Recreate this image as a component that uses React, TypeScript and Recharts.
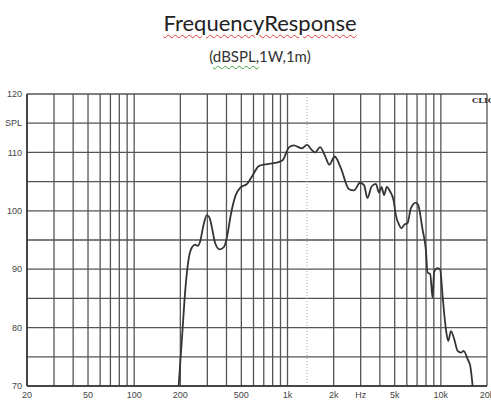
import React from "react";
import { CartesianGrid, Line, LineChart, ReferenceLine, XAxis, YAxis } from "recharts";

// frequency (Hz) and SPL (dB)
const freqs = [
  195, 205, 216, 227, 239, 250, 260, 269, 283, 297, 309, 321, 338, 362, 385, 405,
  426, 458, 494, 545, 590, 652, 741, 830, 925, 1025, 1100, 1242, 1339, 1442, 1515,
  1631, 1757, 1873, 2030, 2222, 2518, 2714, 2972, 3156, 3320, 3541, 3767, 3954,
  4100, 4265, 4441, 4666, 4910, 5084, 5346, 5540, 5762, 6063, 6374, 6872, 7112,
  7598, 7988, 8194, 8521, 8832, 9046, 9521, 9904, 10268, 10792, 11170, 11634,
  12230, 12870, 13520, 14084, 14956, 15560, 16120,
];
const spl = [
  70, 78.2, 86.8, 91.9, 93.8, 94.2, 94.0, 94.7, 97.5, 99.2, 98.9, 97.2, 94.4, 93.4,
  93.8, 95.8, 99.2, 102.6, 104.0, 104.6, 106.0, 107.7, 108.0, 108.2, 108.6, 110.9,
  111.2, 110.7, 111.3, 110.4, 110.0, 110.9, 109.4, 107.9, 109.3, 107.4, 103.7,
  103.5, 104.8, 104.4, 102.2, 104.2, 104.6, 103.1, 104.1, 102.7, 104.1, 103.3,
  101.9, 99.3, 97.6, 97.0, 97.6, 97.9, 100.4, 101.4, 101.0, 96.8, 93.3, 89.4, 89.2,
  85.1, 89.6, 90.2, 89.9, 85.4, 79.7, 77.7, 79.4, 78.0, 76.0, 75.7, 76.0, 74.6,
  73.4, 70,
];

const xGridTicks = [
  20, 30, 40, 50, 60, 70, 80, 90, 100, 200, 300, 400, 500, 600, 700, 800, 900,
  1000, 2000, 3000, 4000, 5000, 6000, 7000, 8000, 9000, 10000, 20000,
];
const xLabelFreqs = [20, 50, 100, 200, 500, 1000, 2000, 3000, 5000, 10000, 20000];
const xLabelTexts = ["20", "50", "100", "200", "500", "1k", "2k", "Hz", "5k", "10k", "20k"];

const yTicks = [70, 75, 80, 85, 90, 95, 100, 105, 110, 115, 120];
const yLabelValues = [70, 80, 90, 100, 110, 115, 120];
const yLabelTexts = ["70", "80", "90", "100", "110", "SPL", "120"];
const yMinorTicks = [
  70, 71, 72, 73, 74, 75, 76, 77, 78, 79, 80, 81, 82, 83, 84, 85, 86, 87, 88, 89,
  90, 91, 92, 93, 94, 95, 96, 97, 98, 99, 100, 101, 102, 103, 104, 105, 106, 107,
  108, 109, 110, 111, 112, 113, 114, 115, 116, 117, 118, 119, 120,
];

const data = freqs.map((f, i) => ({ f, spl: spl[i] }));

const GRID = "#555";
const tickStyle = { fontSize: 9, fill: "#444", fontFamily: "Liberation Sans, Arial, sans-serif" };

const wavy = (color: string): React.CSSProperties => ({
  textDecorationLine: "underline",
  textDecorationStyle: "wavy",
  textDecorationColor: color,
  textDecorationThickness: "1px",
  textUnderlineOffset: "3px",
});

export default function App() {
  return (
    <div style={{ position: "absolute", left: 0, top: 0, width: 491, height: 405, background: "#fff", overflow: "hidden" }}>
      <div
        style={{
          position: "absolute", left: 0, top: 9, width: 520, textAlign: "center",
          fontFamily: "Lato, sans-serif", fontSize: 22, color: "#222", lineHeight: "27px",
        }}
      >
        <span style={wavy("#e03a3a")}>FrequencyResponse</span>
      </div>
      <div
        style={{
          position: "absolute", left: 0, top: 47, width: 520, textAlign: "center",
          fontFamily: "Lato, sans-serif", fontSize: 15, color: "#333", lineHeight: "19px",
        }}
      >
        (<span style={wavy("#3aa03a")}>dBSPL,</span>1W,1m)
      </div>

      <div style={{ position: "absolute", left: 0, top: 0 }}>
        <LineChart width={491} height={405} data={data} margin={{ top: 94, right: 4, bottom: 0, left: 0 }}>
          <CartesianGrid stroke={GRID} strokeWidth={1.3} />
          <XAxis
            dataKey="f"
            type="number"
            scale="log"
            domain={[20, 20000]}
            allowDataOverflow
            ticks={xGridTicks}
            interval={0}
            tickFormatter={(v: number) => {
              const i = xLabelFreqs.indexOf(v);
              return i >= 0 ? xLabelTexts[i] : "";
            }}
            tick={tickStyle}
            tickLine={false}
            tickSize={0}
            tickMargin={6}
            axisLine={{ stroke: "#333", strokeWidth: 1.6 }}
            height={19}
          />
          <YAxis
            type="number"
            domain={[70, 120]}
            ticks={yTicks}
            interval={0}
            tickFormatter={(v: number) => {
              const i = yLabelValues.indexOf(v);
              return i >= 0 ? yLabelTexts[i] : "";
            }}
            tick={tickStyle}
            tickLine={false}
            tickSize={0}
            tickMargin={5}
            axisLine={{ stroke: "#333", strokeWidth: 1.6 }}
            width={27}
          />
          <YAxis
            yAxisId="minor"
            type="number"
            domain={[70, 120]}
            ticks={yMinorTicks}
            interval={0}
            mirror
            tickFormatter={() => ""}
            tickSize={3}
            tickLine={{ stroke: "#666", strokeWidth: 0.8 }}
            axisLine={false}
          />
          <ReferenceLine x={1340} stroke="#aaa" strokeDasharray="1 2" strokeWidth={1} />
          <Line
            type="monotone"
            dataKey="spl"
            stroke="#353535"
            strokeWidth={1.8}
            dot={false}
            isAnimationActive={false}
          />
        </LineChart>
      </div>

      <div
        style={{
          position: "absolute", left: 472, top: 95, fontFamily: "DejaVu Serif, serif",
          fontWeight: "bold", fontSize: 8, color: "#333",
        }}
      >
        CLIO
      </div>
    </div>
  );
}
